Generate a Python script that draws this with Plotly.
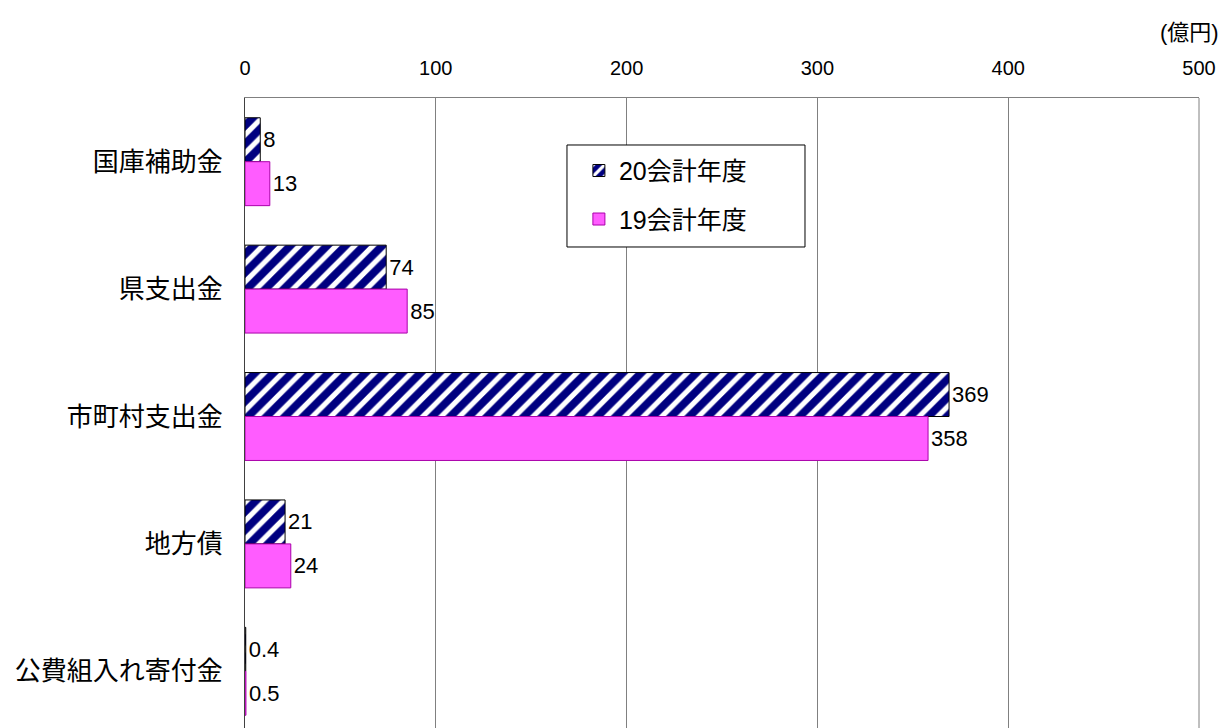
import plotly.graph_objects as go

categories = ["国庫補助金", "県支出金", "市町村支出金", "地方債", "公費組入れ寄付金"]
fy20 = [8, 74, 369, 21, 0.4]
fy19 = [13, 85, 358, 24, 0.5]
fy20_labels = ["8", "74", "369", "21", "0.4"]
fy19_labels = ["13", "85", "358", "24", "0.5"]
series_names = ["20会計年度", "19会計年度"]
x_ticks = [0, 100, 200, 300, 400, 500]
unit_label = "(億円)"

FONT = "Liberation Sans, Arial, Noto Sans CJK JP, sans-serif"

fig = go.Figure()
fig.add_trace(go.Bar(
    y=categories, x=fy20, orientation="h", name=series_names[0],
    text=fy20_labels, textposition="outside", cliponaxis=False,
    textfont=dict(size=22, color="black", family=FONT),
    marker=dict(color="#000080",
                line=dict(color="black", width=1),
                pattern=dict(shape="/", fgcolor="white", bgcolor="#000080",
                             fgopacity=1, size=13, solidity=0.4,
                             fillmode="overlay")),
    legendgroup="a",
))
fig.add_trace(go.Bar(
    y=categories, x=fy19, orientation="h", name=series_names[1],
    text=fy19_labels, textposition="outside", cliponaxis=False,
    textfont=dict(size=22, color="black", family=FONT),
    marker=dict(color="#FF5CFF", line=dict(color="#AA00AA", width=1)),
    legendgroup="b",
))

fig.update_layout(
    width=1223, height=720,
    margin=dict(l=237, r=32, t=90, b=0),
    paper_bgcolor="white", plot_bgcolor="white",
    barmode="group", bargap=0.31, bargroupgap=0,
    font=dict(family=FONT, color="black"),
    showlegend=True,
    legend=dict(x=0.35, y=0.921, xanchor="left", yanchor="top",
                bgcolor="rgba(0,0,0,0)", borderwidth=0,
                font=dict(size=25, family=FONT),
                tracegroupgap=13, traceorder="grouped",
                itemwidth=30),
    xaxis=dict(side="top", range=[0, 500], tickvals=x_ticks,
               ticktext=[str(v) for v in x_ticks],
               showgrid=True, gridcolor="#808080", gridwidth=1,
               showline=True, linecolor="#808080", linewidth=1,
               ticks="", ticklabelstandoff=14,
               tickfont=dict(size=20, family=FONT), zeroline=False),
    yaxis=dict(type="category", categoryorder="array", categoryarray=categories,
               range=[4.445, -0.5], showline=True, linecolor="#404040",
               linewidth=1, mirror=False, ticks="", ticklabelstandoff=16,
               tickfont=dict(size=26, family=FONT), showgrid=False),
    shapes=[dict(type="rect", xref="paper", yref="paper",
                 x0=0.3375, x1=0.587, y0=0.7635, y1=0.9254,
                 line=dict(color="black", width=1), fillcolor="white",
                 layer="above"),
            dict(type="line", xref="paper", yref="paper",
                 x0=1, x1=1, y0=0, y1=1,
                 line=dict(color="#808080", width=1), layer="below")],
    annotations=[dict(text=unit_label, xref="paper", yref="paper",
                      x=1.023, y=1, yshift=66, xanchor="right", yanchor="middle",
                      showarrow=False, font=dict(size=22, family=FONT))],
)

fig.write_html("out.html")
